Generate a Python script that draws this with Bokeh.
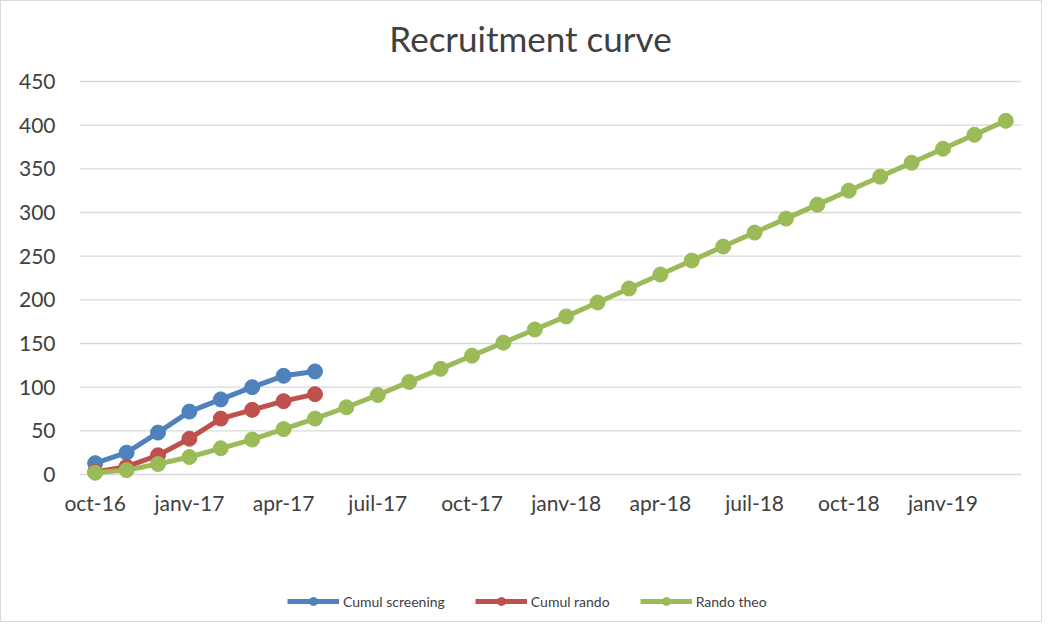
from bokeh.plotting import figure
from bokeh.models import FixedTicker, Legend, LegendItem, Range1d
from bokeh.embed import file_html
from bokeh.resources import INLINE

months = ["oct-16", "nov-16", "déc-16", "janv-17", "févr-17", "mars-17", "avr-17", "mai-17", "juin-17",
          "juil-17", "août-17", "sept-17", "oct-17", "nov-17", "déc-17", "janv-18", "févr-18", "mars-18",
          "apr-18", "mai-18", "juin-18", "juil-18", "août-18", "sept-18", "oct-18", "nov-18", "déc-18",
          "janv-19", "févr-19", "mars-19"]
tick_labels = ["oct-16", "janv-17", "apr-17", "juil-17", "oct-17", "janv-18",
               "apr-18", "juil-18", "oct-18", "janv-19"]
y_ticks = [0, 50, 100, 150, 200, 250, 300, 350, 400, 450]
cumul_screening = [13, 25, 48, 72, 86, 100, 113, 118]
cumul_rando = [3, 9, 22, 41, 64, 74, 84, 92]
rando_theo = [2, 5, 12, 20, 30, 40, 52, 64, 77, 91, 106, 121, 136, 151, 166, 181, 197, 213,
              229, 245, 261, 277, 293, 309, 325, 341, 357, 373, 389, 405]

FONT = "Lato"
W, H = 1042, 622
FRAME_L, FRAME_T = 16, 70    # frame left / top edges in the figure
PLOT_L, PLOT_R = 78, 1020    # pixel columns of the chart's plot area
TOP, ZERO_Y = 80, 473        # pixel rows of the top tick and of 0
n = len(months)
x_lo, x_hi = -0.5, n - 0.5
ppu_x = (PLOT_R - PLOT_L) / (x_hi - x_lo)
x_start = x_lo - (PLOT_L - FRAME_L) / ppu_x
x_end = x_hi + (W - PLOT_R) / ppu_x
y_top = y_ticks[-1]
ppu_y = (ZERO_Y - TOP) / y_top
y_start = -(H - ZERO_Y) / ppu_y
y_end = y_top + (TOP - FRAME_T) / ppu_y

p = figure(width=W, height=H, output_backend="svg", toolbar_location=None,
           x_range=Range1d(x_start, x_end), y_range=Range1d(y_start, y_end),
           min_border_left=FRAME_L, min_border_right=0, min_border_top=FRAME_T, min_border_bottom=0)
p.styles = {"border": "1px solid #d9d9d9", "box-sizing": "border-box"}
p.outline_line_color = None
p.background_fill_color = "white"
p.border_fill_color = "white"

p.title.text = "Recruitment curve"
p.title.align = "center"
p.title.text_font = FONT
p.title.text_font_size = "35px"
p.title.text_font_style = "normal"
p.title.text_color = "#404040"
p.title.standoff = 26

# horizontal gridlines across the plot area
p.segment(x0=[x_lo] * len(y_ticks), x1=[x_hi] * len(y_ticks), y0=y_ticks, y1=y_ticks,
          line_color="#D9D9D9", line_width=1.3)

x_all = list(range(n))
series = [
    ("Cumul screening", cumul_screening, "#4F81BD"),
    ("Cumul rando", cumul_rando, "#C0504D"),
    ("Rando theo", rando_theo, "#9BBB59"),
]
items = []
for name, vals, col in series:
    xs = x_all[:len(vals)]
    l = p.line(xs, vals, line_color=col, line_width=5)
    c = p.scatter(xs, vals, size=15, fill_color=col, line_color=col)
    items.append(LegendItem(label=name, renderers=[l, c]))

p.xaxis.fixed_location = 0
p.yaxis.fixed_location = x_lo
p.xaxis.ticker = FixedTicker(ticks=[i * 3 for i in range(len(tick_labels))])
p.xaxis.major_label_overrides = {i * 3: t for i, t in enumerate(tick_labels)}
p.yaxis.ticker = FixedTicker(ticks=y_ticks)
for ax in (p.xaxis, p.yaxis):
    ax.axis_line_color = None
    ax.major_tick_line_color = None
    ax.minor_tick_line_color = None
    ax.major_label_text_font = FONT
    ax.major_label_text_font_size = "21px"
    ax.major_label_text_color = "#404040"
p.xaxis.major_label_standoff = 9
p.yaxis.major_label_standoff = 18
p.xgrid.grid_line_color = None
p.ygrid.grid_line_color = None

legend = Legend(items=items, orientation="horizontal", location=(208 + PLOT_L - FRAME_L, 12))
legend.label_text_font = FONT
legend.label_text_font_size = "14px"
legend.label_text_color = "#404040"
legend.glyph_width = 52
legend.label_standoff = 4
legend.spacing = 30
legend.padding = 5
legend.margin = 0
legend.border_line_color = None
legend.background_fill_alpha = 0
p.add_layout(legend, "center")

open("out.html", "w").write(file_html(p, INLINE))
